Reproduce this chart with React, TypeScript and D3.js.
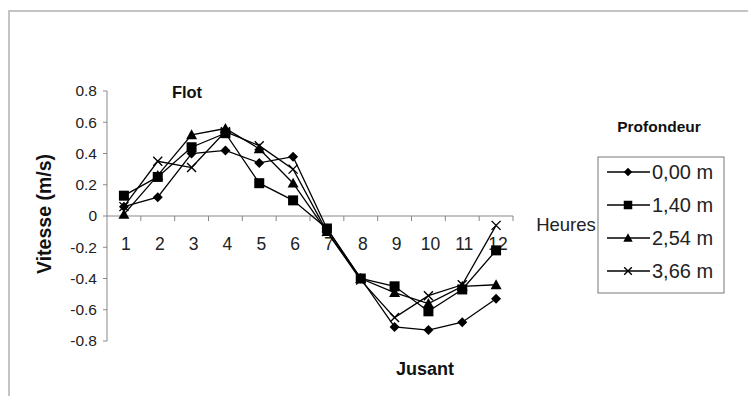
import React from "react";
import * as d3 from "d3";

// Hours of the tidal cycle
const hours = [1, 2, 3, 4, 5, 6, 7, 8, 9, 10, 11, 12];

// Current speed (m/s) at each depth
const depth000 = [0.06, 0.12, 0.40, 0.42, 0.34, 0.38, -0.08, -0.40, -0.71, -0.73, -0.68, -0.53];
const depth140 = [0.13, 0.25, 0.44, 0.53, 0.21, 0.10, -0.08, -0.40, -0.45, -0.61, -0.47, -0.22];
const depth254 = [0.01, 0.26, 0.52, 0.56, 0.43, 0.21, -0.10, -0.40, -0.49, -0.56, -0.45, -0.44];
const depth366 = [0.06, 0.35, 0.31, 0.54, 0.45, 0.30, -0.10, -0.41, -0.65, -0.51, -0.44, -0.06];

const seriesNames = ["0,00 m", "1,40 m", "2,54 m", "3,66 m"];
const seriesValues = [depth000, depth140, depth254, depth366];
const markerKinds = ["diamond", "square", "triangle", "cross"];

const yTicks = [0.8, 0.6, 0.4, 0.2, 0, -0.2, -0.4, -0.6, -0.8];

const FONT = "'Liberation Sans', Arial, sans-serif";

function Marker({ kind, x, y, k = 1 }: { kind: string; x: number; y: number; k?: number }) {
  if (kind === "diamond") {
    const r = 5 * k;
    return <path d={`M${x},${y - r}L${x + r},${y}L${x},${y + r}L${x - r},${y}Z`} fill="#000" />;
  }
  if (kind === "square") {
    const r = 5 * k;
    return <rect x={x - r} y={y - r} width={2 * r} height={2 * r} fill="#000" />;
  }
  if (kind === "triangle") {
    const r = 5.5 * k;
    return <path d={`M${x},${y - r}L${x + r},${y + r * 0.8}L${x - r},${y + r * 0.8}Z`} fill="#000" />;
  }
  const r = 4.5 * k;
  return (
    <path
      d={`M${x - r},${y - r}L${x + r},${y + r}M${x - r},${y + r}L${x + r},${y - r}`}
      stroke="#000"
      strokeWidth={1.4}
      fill="none"
    />
  );
}

export default function App() {
  const width = 748;
  const height = 396;
  const left = 107;
  const right = 513;
  const x = d3.scaleBand<number>().domain(hours).range([left, right]);
  const y = d3.scaleLinear().domain([-0.8, 0.8]).range([341, 91]);
  const y0 = y(0);
  const cx = (h: number) => (x(h) as number) + x.bandwidth() / 2;
  const line = d3
    .line<number>()
    .x((_, i) => cx(hours[i]))
    .y((v) => y(v));

  const legendX = 598;
  const legendY = 157;
  const rowY = [172, 205, 238, 271];

  return (
    <svg
      width={width}
      height={height}
      style={{ position: "absolute", left: 0, top: 0, background: "#fff" }}
      fontFamily={FONT}
    >
      <rect x={0} y={0} width={width} height={height} fill="#fff" />
      {/* chart area frame */}
      <rect x={9} y={11} width={800} height={420} fill="none" stroke="#c4c4c4" strokeWidth={2} />

      {/* y axis */}
      <line x1={left} x2={left} y1={y(0.8)} y2={y(-0.8)} stroke="#888" strokeWidth={1} />
      {yTicks.map((t) => (
        <g key={t}>
          <line x1={left - 4} x2={left} y1={y(t)} y2={y(t)} stroke="#888" />
          <text x={left - 10} y={y(t)} dy="0.35em" textAnchor="end" fontSize={15.5} fill="#222">
            {t === 0 ? "0" : t.toFixed(1)}
          </text>
        </g>
      ))}
      <text
        transform={`translate(44,${y(0) - 2}) rotate(-90)`}
        dy="0.35em"
        textAnchor="middle"
        fontSize={19.5}
        fontWeight="bold"
        fill="#111"
      >
        Vitesse (m/s)
      </text>

      {/* x axis at zero */}
      <line x1={left} x2={right} y1={y0} y2={y0} stroke="#888" />
      {hours.map((h) => (
        <line
          key={`t${h}`}
          x1={(x(h) as number) + x.bandwidth()}
          x2={(x(h) as number) + x.bandwidth()}
          y1={y0}
          y2={y0 + 5}
          stroke="#888"
        />
      ))}
      {hours.map((h) => (
        <text key={`l${h}`} x={cx(h) + 2} y={244} dy="0.35em" textAnchor="middle" fontSize={17.5} fill="#222">
          {h}
        </text>
      ))}

      {/* series */}
      {seriesValues.map((vals, s) => (
        <g key={s}>
          <path d={line(vals) as string} fill="none" stroke="#000" strokeWidth={1.3} />
          {vals.map((v, i) => (
            <Marker key={i} kind={markerKinds[s]} x={cx(hours[i])} y={y(v)} />
          ))}
        </g>
      ))}

      {/* annotations */}
      <text x={187} y={92} dy="0.35em" textAnchor="middle" fontSize={16.5} fontWeight="bold" fill="#111">
        Flot
      </text>
      <text x={425} y={369} dy="0.35em" textAnchor="middle" fontSize={18} fontWeight="bold" fill="#111">
        Jusant
      </text>
      <text x={566} y={225} dy="0.35em" textAnchor="middle" fontSize={18.5} fill="#222">
        Heures
      </text>
      <text x={659} y={127} dy="0.35em" textAnchor="middle" fontSize={15.5} fontWeight="bold" fill="#111">
        Profondeur
      </text>

      {/* legend */}
      <rect x={legendX} y={legendY} width={126} height={136} fill="#fff" stroke="#777" strokeWidth={1} />
      {seriesNames.map((name, s) => (
        <g key={name}>
          <line x1={607} x2={650} y1={rowY[s]} y2={rowY[s]} stroke="#000" strokeWidth={1.3} />
          <Marker kind={markerKinds[s]} x={628} y={rowY[s]} k={0.85} />
          <text x={652} y={rowY[s]} dy="0.35em" fontSize={20} fill="#222">
            {name}
          </text>
        </g>
      ))}
    </svg>
  );
}
